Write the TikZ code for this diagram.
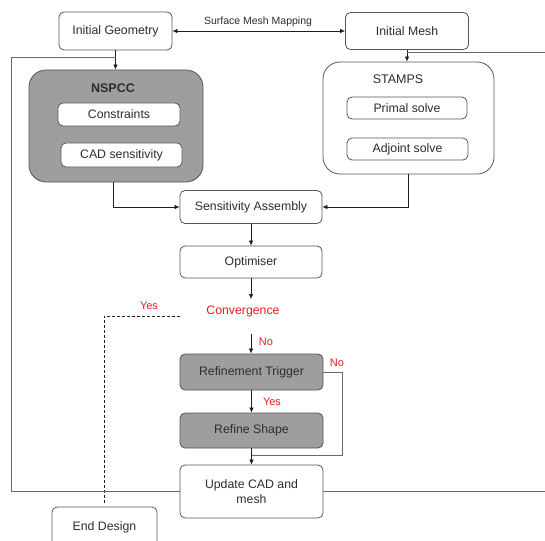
\documentclass[tikz,border=0pt]{standalone}
\usepackage{fontspec}
\setmainfont{Liberation Sans}
\usetikzlibrary{arrows.meta}
\definecolor{boxline}{RGB}{85,85,85}
\definecolor{boxgray}{RGB}{158,158,158}
\definecolor{txt}{RGB}{45,45,45}
\definecolor{redtxt}{RGB}{232,28,36}
\definecolor{loopgray}{RGB}{105,105,105}
\definecolor{conncol}{RGB}{30,30,30}
\begin{document}
\begin{tikzpicture}[x=1pt,y=-1pt,
  >={Latex[length=5pt,width=4.5pt]},
  box/.style={draw=boxline, line width=0.8pt, rounded corners=5pt, fill=white,
    text=txt, font=\fontsize{12.3}{15}\selectfont, inner sep=0pt, align=center},
  bigbox/.style={draw=boxline, line width=0.8pt, rounded corners=17pt, inner sep=0pt},
  graybox/.style={box, fill=boxgray},
  conn/.style={draw=conncol, line width=0.7pt},
  loopline/.style={draw=loopgray, line width=0.8pt},
  redlbl/.style={text=redtxt, font=\fontsize{11}{13}\selectfont, inner sep=0pt},
  title/.style={text=txt, font=\fontsize{12.5}{15}\selectfont, inner sep=0pt}]
\clip (0,0) rectangle (545,540);
\fill[white] (0,0) rectangle (545,540);

% top boxes
\node[box, minimum width=113pt, minimum height=38pt] (ig) at (115.5,31) {Initial Geometry};
\node[box, minimum width=123pt, minimum height=37pt] (im) at (407,31) {Initial Mesh};
\node[text=txt, font=\fontsize{10.5}{12}\selectfont, inner sep=0pt] (smm) at (258,22) {Surface Mesh Mapping};
\draw[conn, <->] (ig.east) -- (im.west);

% NSPCC group
\node[bigbox, fill=boxgray, minimum width=174pt, minimum height=112pt] (nspcc) at (116,126) {};
\node[title, font=\fontsize{12.5}{15}\selectfont\bfseries] (nspcct) at (113,88) {NSPCC};
\node[box, minimum width=122pt, minimum height=23pt] (cons) at (119,114.5) {Constraints};
\node[box, minimum width=121pt, minimum height=24pt] (cads) at (121.5,155) {CAD sensitivity};

% STAMPS group
\node[bigbox, fill=white, minimum width=171pt, minimum height=112pt] (stamps) at (408.5,118) {};
\node[title] (stampst) at (398,79) {STAMPS};
\node[box, minimum width=120pt, minimum height=22pt] (primal) at (407,108) {Primal solve};
\node[box, minimum width=121pt, minimum height=22pt] (adj) at (407.5,149) {Adjoint solve};

% main column
\node[box, minimum width=142pt, minimum height=33pt] (sa) at (251,207) {Sensitivity Assembly};
\node[box, minimum width=142pt, minimum height=32pt] (opt) at (251,262) {Optimiser};
\node[text=redtxt, font=\fontsize{12.3}{15}\selectfont, inner sep=0pt] (conv) at (243,311) {Convergence};
\node[graybox, minimum width=143pt, minimum height=36pt] (rtrig) at (251.5,372) {Refinement Trigger};
\node[graybox, minimum width=143pt, minimum height=35pt] (rs) at (251.5,430.5) {Refine Shape};
\node[box, minimum width=143pt, minimum height=53pt] (upd) at (251.5,491.5) {Update CAD and\\mesh};
\node[box, minimum width=105pt, minimum height=40pt] (endd) at (104.5,527) {End Design};

% connectors
\draw[conn, ->] (ig.south) -- (ig.south |- nspcc.north);
\draw[conn, ->] (im.south) -- (im.south |- stamps.north);
\draw[conn, ->] ([xshift=-3pt]nspcc.south) |- (sa.west);
\draw[conn, ->] (stamps.south) |- (sa.east);
\draw[conn, ->] (sa.south) -- (opt.north);
\coordinate (c1) at (251,299);
\coordinate (c2) at (251,334);
\draw[conn, ->] (opt.south) -- (c1);
\draw[conn, ->] (c2) -- (c2 |- rtrig.north);
\node[redlbl] (no1) at (266,342) {No};
\draw[conn, ->] (rtrig.south) -- (rs.north);
\node[redlbl] (yes2) at (272,402) {Yes};
\draw[conn, ->] (rs.south) -- (upd.north);

% No loop from refinement trigger
\coordinate (n1) at (342,372);
\coordinate (n2) at (342,455);
\coordinate (n3) at (251.5,455);
\draw[loopline] (rtrig.east) -- (n1) -- (n2) -- (n3);
\node[redlbl] (no2) at (337,363) {No};

% Yes dashed to End Design
\coordinate (d1) at (180,316);
\coordinate (d2) at (104,316);
\coordinate (d3) at (104,503);
\draw[conn, dashed, dash pattern=on 3pt off 2pt, line width=0.6pt] (d1) -- (d2) -- (d3);
\node[redlbl] (yes1) at (149,306) {Yes};

% outer loops
\coordinate (lb) at (11,491.5);
\coordinate (lt) at (11,57);
\draw[loopline] (upd.west) -- (lb) -- (lt) -- (lt -| ig.south);
\coordinate (rb) at (550,491.5);
\coordinate (rtop) at (550,52);
\draw[loopline] (upd.east) -- (rb);
\draw[loopline] (rtop) -- (rtop -| im.south);
\end{tikzpicture}
\end{document}
